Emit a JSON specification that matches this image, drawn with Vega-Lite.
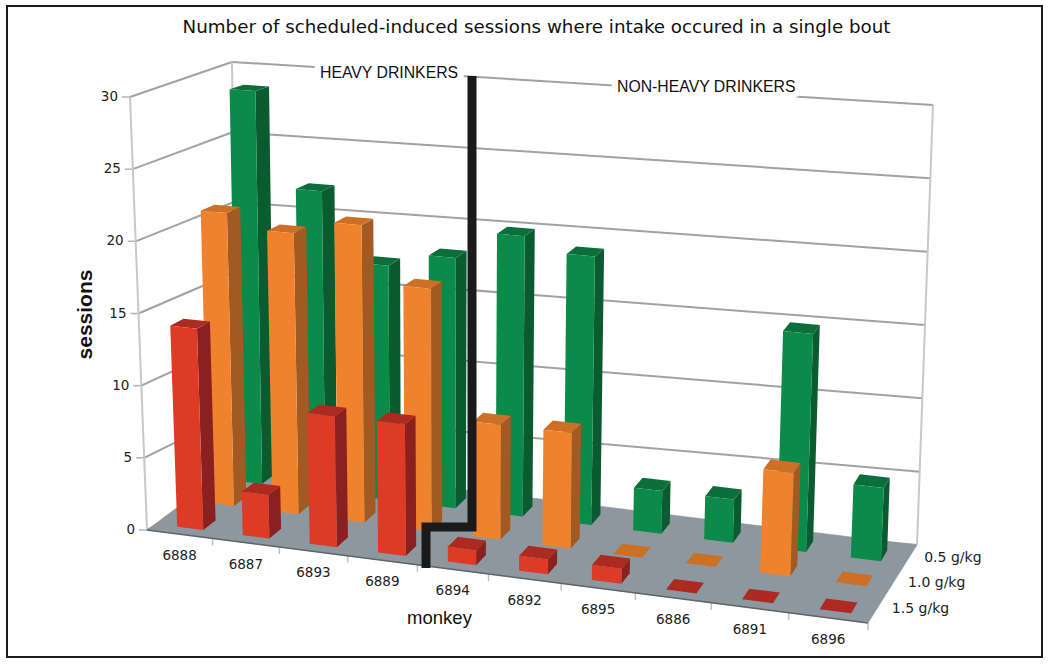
{
"$schema":"https://vega.github.io/schema/vega-lite/v6.json",
"autosize":{"type":"none"},
"padding":{"left":7,"top":6,"right":8,"bottom":7},
"width":1035,"height":651,
"background":"white",
"config":{"view":{"stroke":"#1c1c1c","strokeWidth":2},"font":"DejaVu Sans"},
"title":{"text":"Number of scheduled-induced sessions where intake occured in a single bout","font":"DejaVu Sans","fontSize":18.3,"fontWeight":"normal","color":"#111","anchor":"middle","dx":12,"offset":-31},
"resolve":{"axis":{"x":"independent","y":"independent"}},
"datasets":{
"bars":[
{"monkey":"6888","dose":"0.5 g/kg","sessions":29},{"monkey":"6887","dose":"0.5 g/kg","sessions":22},{"monkey":"6893","dose":"0.5 g/kg","sessions":17},{"monkey":"6889","dose":"0.5 g/kg","sessions":18},{"monkey":"6894","dose":"0.5 g/kg","sessions":20},{"monkey":"6892","dose":"0.5 g/kg","sessions":19},{"monkey":"6895","dose":"0.5 g/kg","sessions":3},{"monkey":"6886","dose":"0.5 g/kg","sessions":3},{"monkey":"6891","dose":"0.5 g/kg","sessions":15},{"monkey":"6896","dose":"0.5 g/kg","sessions":5},
{"monkey":"6888","dose":"1.0 g/kg","sessions":21},{"monkey":"6887","dose":"1.0 g/kg","sessions":20},{"monkey":"6893","dose":"1.0 g/kg","sessions":21},{"monkey":"6889","dose":"1.0 g/kg","sessions":17},{"monkey":"6894","dose":"1.0 g/kg","sessions":8},{"monkey":"6892","dose":"1.0 g/kg","sessions":8},{"monkey":"6895","dose":"1.0 g/kg","sessions":0},{"monkey":"6886","dose":"1.0 g/kg","sessions":0},{"monkey":"6891","dose":"1.0 g/kg","sessions":7},{"monkey":"6896","dose":"1.0 g/kg","sessions":0},
{"monkey":"6888","dose":"1.5 g/kg","sessions":14},{"monkey":"6887","dose":"1.5 g/kg","sessions":3},{"monkey":"6893","dose":"1.5 g/kg","sessions":9},{"monkey":"6889","dose":"1.5 g/kg","sessions":9},{"monkey":"6894","dose":"1.5 g/kg","sessions":1},{"monkey":"6892","dose":"1.5 g/kg","sessions":1},{"monkey":"6895","dose":"1.5 g/kg","sessions":1},{"monkey":"6886","dose":"1.5 g/kg","sessions":0},{"monkey":"6891","dose":"1.5 g/kg","sessions":0},{"monkey":"6896","dose":"1.5 g/kg","sessions":0}
],
"wall":[{"sessions":0},{"sessions":5},{"sessions":10},{"sessions":15},{"sessions":20},{"sessions":25},{"sessions":30}],
"monkeys":[{"monkey":"6888"},{"monkey":"6887"},{"monkey":"6893"},{"monkey":"6889"},{"monkey":"6894"},{"monkey":"6892"},{"monkey":"6895"},{"monkey":"6886"},{"monkey":"6891"},{"monkey":"6896"}],
"doses":[{"dose":"0.5 g/kg","v":0.80},{"dose":"1.0 g/kg","v":0.47},{"dose":"1.5 g/kg","v":0.14}],
"floor":[{"part":"floor"}],
"divider":[{"seq":0},{"seq":1},{"seq":2},{"seq":3}],
"groups":[{"group":"HEAVY DRINKERS"},{"group":"NON-HEAVY DRINKERS"}]
},
"layer":[
{"data":{"name":"wall"},"mark":{"type":"rule","color":"#a2a2a6","strokeWidth":2},
 "transform":[{"calculate":"datum.sessions/30","as":"h"},{"calculate":"238-6*datum.h","as":"blx"},{"calculate":"482-420*datum.h","as":"bly"},{"calculate":"917+16*datum.h","as":"brx"},{"calculate":"545-440*datum.h","as":"bry"}],
 "encoding":{
  "x":{"field":"blx","type":"quantitative","scale":{"domain":[7,1042],"nice":false},"axis":{"title":"monkey","labels":false,"ticks":false,"domain":false,"grid":false,"titleX":432,"titleY":-49,"titleFont":"Liberation Sans","titleFontSize":18.5,"titleFontWeight":"normal","titleColor":"#111"}},
  "y":{"field":"bly","type":"quantitative","scale":{"domain":[657,6],"nice":false},"axis":{"title":"sessions","labels":false,"ticks":false,"domain":false,"grid":false,"titleX":88,"titleY":308,"titleAngle":-90,"titleFont":"Liberation Sans","titleFontSize":21,"titleFontWeight":"bold","titleColor":"#111"}},
  "x2":{"field":"brx"},"y2":{"field":"bry"}}},
{"data":{"name":"wall"},"mark":{"type":"rule","color":"#a2a2a6","strokeWidth":2},
 "transform":[{"calculate":"datum.sessions/30","as":"h"},{"calculate":"238-6*datum.h","as":"blx"},{"calculate":"482-420*datum.h","as":"bly"},{"calculate":"147-17*datum.h","as":"flx"},{"calculate":"530-433*datum.h","as":"fly"}],
 "encoding":{
  "x":{"field":"blx","type":"quantitative","scale":{"domain":[7,1042],"nice":false},"axis":null},
  "y":{"field":"bly","type":"quantitative","scale":{"domain":[657,6],"nice":false},"axis":null},
  "x2":{"field":"flx"},"y2":{"field":"fly"}}},
{"data":{"name":"wall"},"mark":{"type":"rule","color":"#b4b4b8","strokeWidth":1.5},
 "transform":[{"calculate":"datum.sessions/30","as":"h"},{"calculate":"147-17*datum.h","as":"flx"},{"calculate":"530-433*datum.h","as":"fly"},{"calculate":"datum.flx-8","as":"tx"}],
 "encoding":{
  "x":{"field":"tx","type":"quantitative","scale":{"domain":[7,1042],"nice":false},"axis":null},
  "y":{"field":"fly","type":"quantitative","scale":{"domain":[657,6],"nice":false},"axis":null},
  "x2":{"field":"flx"}}},
{"data":{"name":"wall"},"mark":{"type":"line","color":"#c8c8cc","strokeWidth":2},
 "transform":[{"calculate":"datum.sessions/30","as":"h"},{"calculate":"147-17*datum.h","as":"px"},{"calculate":"530-433*datum.h","as":"py"}],
 "encoding":{
  "x":{"field":"px","type":"quantitative","scale":{"domain":[7,1042],"nice":false},"axis":null},
  "y":{"field":"py","type":"quantitative","scale":{"domain":[657,6],"nice":false},"axis":null}}},
{"data":{"name":"wall"},"mark":{"type":"line","color":"#c8c8cc","strokeWidth":2},
 "transform":[{"calculate":"datum.sessions/30","as":"h"},{"calculate":"238-6*datum.h","as":"px"},{"calculate":"482-420*datum.h","as":"py"}],
 "encoding":{
  "x":{"field":"px","type":"quantitative","scale":{"domain":[7,1042],"nice":false},"axis":null},
  "y":{"field":"py","type":"quantitative","scale":{"domain":[657,6],"nice":false},"axis":null}}},
{"data":{"name":"wall"},"mark":{"type":"line","color":"#c8c8cc","strokeWidth":2},
 "transform":[{"calculate":"datum.sessions/30","as":"h"},{"calculate":"917+16*datum.h","as":"px"},{"calculate":"545-440*datum.h","as":"py"}],
 "encoding":{
  "x":{"field":"px","type":"quantitative","scale":{"domain":[7,1042],"nice":false},"axis":null},
  "y":{"field":"py","type":"quantitative","scale":{"domain":[657,6],"nice":false},"axis":null}}},
{"data":{"name":"monkeys"},"mark":{"type":"rule","color":"#c0c0c4","strokeWidth":1.5},
 "transform":[{"calculate":"indexof(['6888','6887','6893','6889','6894','6892','6895','6886','6891','6896'],datum.monkey)","as":"i"},{"calculate":"(datum.i+1)/10","as":"t"},{"calculate":"0.9*datum.t/(1-0.1*datum.t)","as":"u"},{"calculate":"147+721*datum.u","as":"px"},{"calculate":"530+93*datum.u","as":"py"},{"calculate":"datum.py+7","as":"py2"}],
 "encoding":{
  "x":{"field":"px","type":"quantitative","scale":{"domain":[7,1042],"nice":false},"axis":null},
  "y":{"field":"py","type":"quantitative","scale":{"domain":[657,6],"nice":false},"axis":null},
  "y2":{"field":"py2"}}},
{"data":{"name":"floor"},"mark":{"type":"geoshape","filled":true,"fill":"#8c979f","stroke":"#8c979f","strokeWidth":0.5},
 "projection":{"type":"identity","scale":1,"translate":[-7,-6]},
 "transform":[{"calculate":"{type:'Polygon',coordinates:[[[147,530],[868,623],[917,545],[238,462],[147,530]]]}","as":"poly"}],
 "encoding":{"shape":{"field":"poly","type":"geojson"}}},
{"data":{"name":"wall"},"mark":{"type":"rule","color":"#5f6468","strokeWidth":1.5},
 "transform":[{"filter":"datum.sessions==0"},{"calculate":"147","as":"px"},{"calculate":"530","as":"py"},{"calculate":"868","as":"px2"},{"calculate":"623","as":"py2"}],
 "encoding":{
  "x":{"field":"px","type":"quantitative","scale":{"domain":[7,1042],"nice":false},"axis":null},
  "y":{"field":"py","type":"quantitative","scale":{"domain":[657,6],"nice":false},"axis":null},
  "x2":{"field":"px2"},"y2":{"field":"py2"}}},
{"data":{"name":"bars"},"mark":{"type":"geoshape","filled":true,"strokeWidth":0.4},
 "projection":{"type":"identity","scale":1,"translate":[-7,-6]},
 "transform":[
  {"calculate":"indexof(['6888','6887','6893','6889','6894','6892','6895','6886','6891','6896'],datum.monkey)","as":"i"},
  {"calculate":"(datum.i+0.34)/10","as":"t0"},{"calculate":"datum.t0+0.04","as":"t1"},
  {"calculate":"0.9*datum.t0/(1-0.1*datum.t0)","as":"u0"},{"calculate":"0.9*datum.t1/(1-0.1*datum.t1)","as":"u1"},
  {"calculate":"datum.dose=='1.5 g/kg'?0.09:(datum.dose=='1.0 g/kg'?0.44:0.76)","as":"v0"},{"calculate":"datum.v0+0.14","as":"v1"},
  {"calculate":"datum.sessions/30","as":"h"},
  {"calculate":"147+721*datum.u0+91*datum.v0-48*datum.u0*datum.v0","as":"ax"},
  {"calculate":"530+93*datum.u0-68*datum.v0-10*datum.u0*datum.v0","as":"ay"},
  {"calculate":"147+721*datum.u1+91*datum.v0-48*datum.u1*datum.v0","as":"bx"},
  {"calculate":"530+93*datum.u1-68*datum.v0-10*datum.u1*datum.v0","as":"by"},
  {"calculate":"147+721*datum.u1+91*datum.v1-48*datum.u1*datum.v1","as":"cx"},
  {"calculate":"530+93*datum.u1-68*datum.v1-10*datum.u1*datum.v1","as":"cy"},
  {"calculate":"datum.ax+datum.h*(-17+39*datum.u0+11*datum.v0-17*datum.u0*datum.v0)","as":"dx"},
  {"calculate":"datum.ay+datum.h*(-433-27*datum.u0+38*datum.v0-13*datum.u0*datum.v0)","as":"dy"},
  {"calculate":"datum.bx+datum.h*(-17+39*datum.u1+11*datum.v0-17*datum.u1*datum.v0)","as":"ex"},
  {"calculate":"datum.by+datum.h*(-433-27*datum.u1+38*datum.v0-13*datum.u1*datum.v0)","as":"ey"},
  {"calculate":"datum.cx+datum.h*(-17+39*datum.u1+11*datum.v1-17*datum.u1*datum.v1)","as":"fx"},
  {"calculate":"datum.cy+datum.h*(-433-27*datum.u1+38*datum.v1-13*datum.u1*datum.v1)","as":"fy"},
  {"calculate":"147+721*datum.u0+91*datum.v1-48*datum.u0*datum.v1+datum.h*(-17+39*datum.u0+11*datum.v1-17*datum.u0*datum.v1)","as":"gx"},
  {"calculate":"530+93*datum.u0-68*datum.v1-10*datum.u0*datum.v1+datum.h*(-433-27*datum.u0+38*datum.v1-13*datum.u0*datum.v1)","as":"gy"},
  {"calculate":"[{type:'Polygon',coordinates:[[[datum.bx,datum.by],[datum.cx,datum.cy],[datum.fx,datum.fy],[datum.ex,datum.ey],[datum.bx,datum.by]]]},{type:'Polygon',coordinates:[[[datum.dx,datum.dy],[datum.ex,datum.ey],[datum.fx,datum.fy],[datum.gx,datum.gy],[datum.dx,datum.dy]]]},{type:'Polygon',coordinates:[[[datum.ax,datum.ay],[datum.bx,datum.by],[datum.ex,datum.ey],[datum.dx,datum.dy],[datum.ax,datum.ay]]]}]","as":"poly"},
  {"calculate":"['side','top','front']","as":"face"},
  {"flatten":["poly","face"]},
  {"calculate":"datum.dose+' '+datum.face","as":"key"}
 ],
 "encoding":{
  "shape":{"field":"poly","type":"geojson"},
  "color":{"field":"key","type":"nominal","legend":null,"scale":{"domain":["0.5 g/kg front","0.5 g/kg side","0.5 g/kg top","1.0 g/kg front","1.0 g/kg side","1.0 g/kg top","1.5 g/kg front","1.5 g/kg side","1.5 g/kg top"],"range":["#0b8a4a","#0a5c30","#0b6e3b","#f0822d","#a35a22","#cc7026","#dd3b25","#8a2020","#ad2a20"]}}}},
{"data":{"name":"divider"},"mark":{"type":"line","color":"#1a1a1a","strokeWidth":9,"strokeJoin":"miter","strokeCap":"butt"},
 "transform":[{"calculate":"[426,426,472,472][datum.seq]","as":"px"},{"calculate":"[568,527,527,76][datum.seq]","as":"py"}],
 "encoding":{
  "x":{"field":"px","type":"quantitative","scale":{"domain":[7,1042],"nice":false},"axis":null},
  "y":{"field":"py","type":"quantitative","scale":{"domain":[657,6],"nice":false},"axis":null},
  "order":{"field":"seq","type":"ordinal"}}},
{"data":{"name":"wall"},"mark":{"type":"text","align":"right","baseline":"middle","fontSize":13.5,"font":"DejaVu Sans","color":"#222"},
 "transform":[{"calculate":"datum.sessions/30","as":"h"},{"calculate":"135-17*datum.h","as":"px"},{"calculate":"530-433*datum.h","as":"py"}],
 "encoding":{
  "x":{"field":"px","type":"quantitative","scale":{"domain":[7,1042],"nice":false},"axis":null},
  "y":{"field":"py","type":"quantitative","scale":{"domain":[657,6],"nice":false},"axis":null},
  "text":{"field":"sessions","type":"quantitative"}}},
{"data":{"name":"monkeys"},"mark":{"type":"text","align":"center","baseline":"middle","fontSize":13.5,"font":"DejaVu Sans","color":"#222"},
 "transform":[{"calculate":"indexof(['6888','6887','6893','6889','6894','6892','6895','6886','6891','6896'],datum.monkey)","as":"i"},{"calculate":"(datum.i+0.5)/10","as":"t"},{"calculate":"0.9*datum.t/(1-0.1*datum.t)","as":"u"},{"calculate":"147+721*datum.u","as":"px"},{"calculate":"552+93*datum.u","as":"py"}],
 "encoding":{
  "x":{"field":"px","type":"quantitative","scale":{"domain":[7,1042],"nice":false},"axis":null},
  "y":{"field":"py","type":"quantitative","scale":{"domain":[657,6],"nice":false},"axis":null},
  "text":{"field":"monkey","type":"nominal"}}},
{"data":{"name":"doses"},"mark":{"type":"text","align":"left","baseline":"middle","fontSize":14,"font":"DejaVu Sans","color":"#222"},
 "transform":[{"calculate":"885+49*datum.v","as":"px"},{"calculate":"620-78*datum.v","as":"py"}],
 "encoding":{
  "x":{"field":"px","type":"quantitative","scale":{"domain":[7,1042],"nice":false},"axis":null},
  "y":{"field":"py","type":"quantitative","scale":{"domain":[657,6],"nice":false},"axis":null},
  "text":{"field":"dose","type":"nominal"}}},
{"data":{"name":"groups"},"mark":{"type":"text","align":"left","baseline":"middle","fontSize":15.8,"font":"Liberation Sans","stroke":"white","strokeWidth":13,"fill":"white"},
 "transform":[{"calculate":"datum.group=='HEAVY DRINKERS'?320:617","as":"px"},{"calculate":"datum.group=='HEAVY DRINKERS'?73:87","as":"py"}],
 "encoding":{
  "x":{"field":"px","type":"quantitative","scale":{"domain":[7,1042],"nice":false},"axis":null},
  "y":{"field":"py","type":"quantitative","scale":{"domain":[657,6],"nice":false},"axis":null},
  "text":{"field":"group","type":"nominal"}}},
{"data":{"name":"groups"},"mark":{"type":"text","align":"left","baseline":"middle","fontSize":15.8,"font":"Liberation Sans","color":"#111"},
 "transform":[{"calculate":"datum.group=='HEAVY DRINKERS'?320:617","as":"px"},{"calculate":"datum.group=='HEAVY DRINKERS'?73:87","as":"py"}],
 "encoding":{
  "x":{"field":"px","type":"quantitative","scale":{"domain":[7,1042],"nice":false},"axis":null},
  "y":{"field":"py","type":"quantitative","scale":{"domain":[657,6],"nice":false},"axis":null},
  "text":{"field":"group","type":"nominal"}}}
]
}
